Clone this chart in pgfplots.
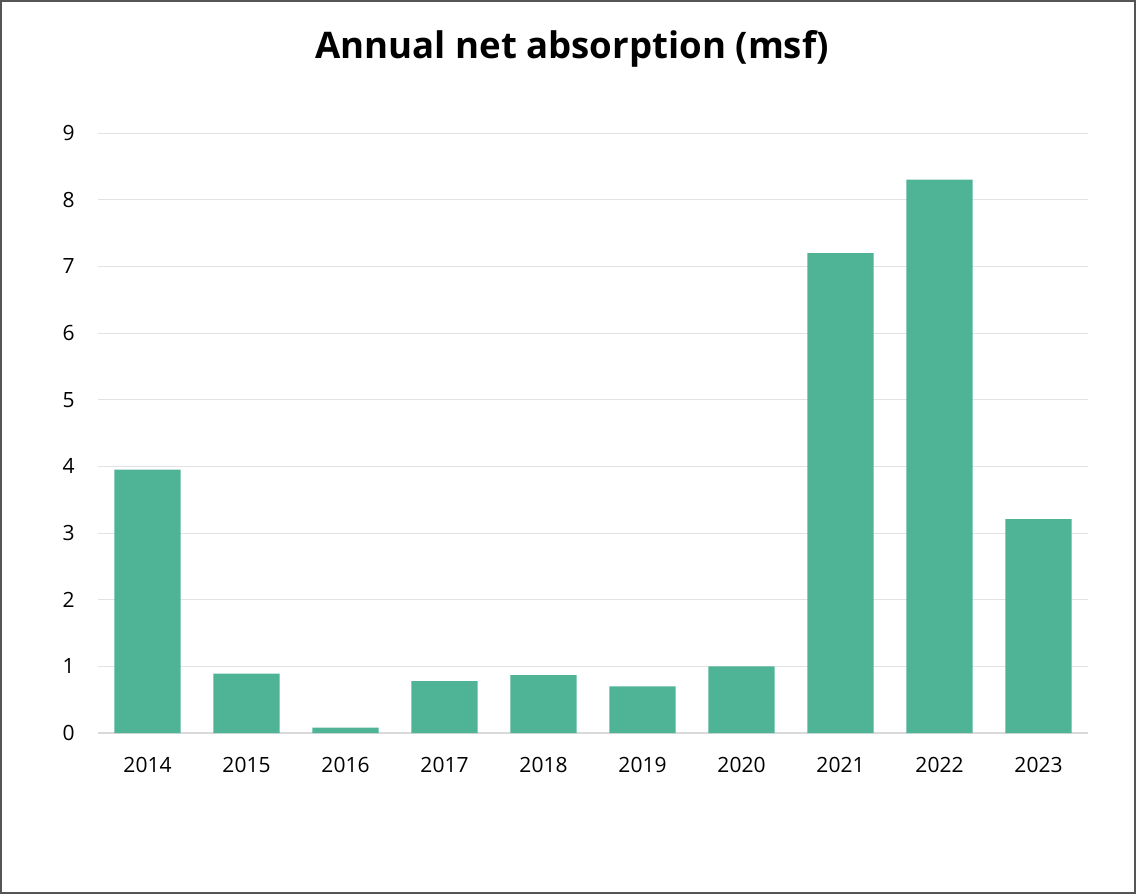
\documentclass[border=0pt]{standalone}
\usepackage{pgfplots}
\pgfplotsset{compat=1.18}
\usepackage{fontspec}
\setmainfont{Open Sans}
\definecolor{barc}{HTML}{4FB496}
\definecolor{gridc}{HTML}{E2E2E2}
\definecolor{axc}{HTML}{D9D9D9}
\definecolor{framec}{HTML}{555555}
\begin{document}
\begin{tikzpicture}
\useasboundingbox (0,0) rectangle (569pt,447pt);
\draw[framec, line width=1pt] (0.5pt,0.5pt) rectangle (567.5pt,446.5pt);
\node[anchor=base, font=\bfseries\fontsize{18.3}{20}\selectfont] at (286pt,417.5pt) {Annual net absorption (msf)};
\begin{axis}[
  at={(49pt,80.5pt)}, anchor=south west,
  scale only axis, width=495pt, height=300pt,
  xmin=-0.5, xmax=9.5, ymin=0, ymax=9,
  ytick={0,1,...,9},
  xtick=data,
  xticklabels={2014,2015,2016,2017,2018,2019,2020,2021,2022,2023},
  axis x line*=bottom, axis y line*=left,
  x axis line style={axc, line width=1pt, -},
  y axis line style={draw=none},
  ymajorgrids, grid style={gridc, line width=0.5pt},
  major tick length=0pt,
  tick label style={font=\fontsize{10.5}{12}\selectfont, text=black},
  /pgf/number format/assume math mode=true,
  xticklabel style={inner sep=0pt, anchor=north, yshift=-12pt},
  yticklabel style={inner sep=0pt, anchor=east, xshift=-11.5pt},
  ybar, bar width=0.667, bar shift=0pt,
  clip=false,
]
\addplot[fill=barc, draw=none] coordinates {
(0,3.95) (1,0.89) (2,0.08) (3,0.78) (4,0.87) (5,0.70) (6,1.00) (7,7.20) (8,8.30) (9,3.21)
};
\end{axis}
\end{tikzpicture}
\end{document}
